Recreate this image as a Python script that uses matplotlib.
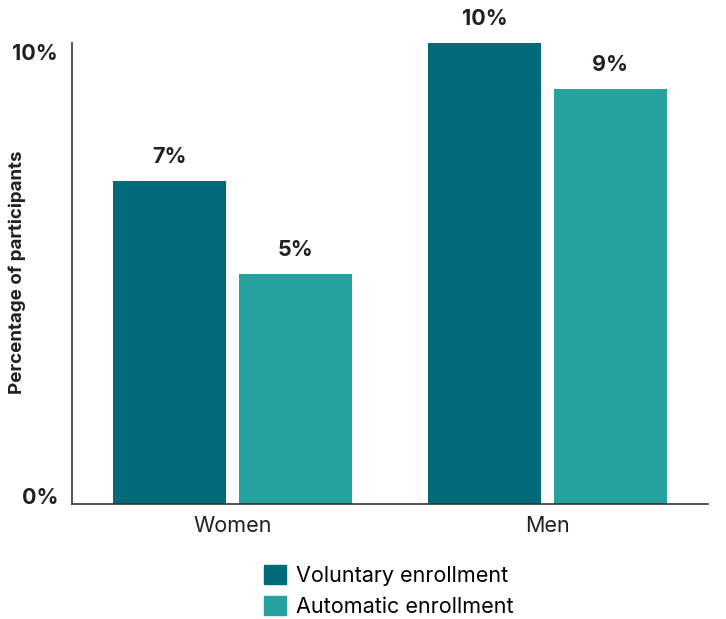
import numpy as np
import matplotlib
matplotlib.use('Agg')
import matplotlib.pyplot as plt
import matplotlib.transforms as mtransforms
from matplotlib.patches import Patch

plt.rcParams['font.family'] = ['Inter', 'DejaVu Sans']

# Data
groups = ['Women', 'Men']
series = ['Voluntary enrollment', 'Automatic enrollment']
voluntary = [7, 10]
automatic = [5, 9]
colors = ['#006B78', '#26A39E']

fig = plt.figure(figsize=(7.26, 6.19), dpi=100)
ax = fig.add_axes([72 / 726, 1 - 504 / 619, (708 - 72) / 726, (504 - 43) / 619])

x = np.arange(len(groups))
width = 0.359
offset = 0.2

for vals, off, col in [(voluntary, -offset, colors[0]), (automatic, offset, colors[1])]:
    bars = ax.bar(x + off, vals, width, color=col)
    for b, v in zip(bars, vals):
        ax.annotate(f'{v}%', (b.get_x() + b.get_width() / 2, v),
                    xytext=(0, 10), textcoords='offset points',
                    ha='center', va='bottom', fontsize=15.5, fontweight='bold',
                    color='#231f20', annotation_clip=False)

ax.set_xlim(-0.51, 1.51)
ax.set_ylim(0, 10)
ax.set_yticks([0, 10])
ylabels = ax.set_yticklabels(['0%', '10%'], fontsize=15.5, fontweight='bold', color='#231f20')
ax.set_xticks(x)
ax.set_xticklabels(groups, fontsize=15.5, color='#231f20')
ax.tick_params(axis='y', length=0, pad=10)
ax.tick_params(axis='x', length=0, pad=9)
for s in ['top', 'right']:
    ax.spines[s].set_visible(False)
for s in ['left', 'bottom']:
    ax.spines[s].set_color('#333333')
    ax.spines[s].set_linewidth(1.2)

# tick labels sit inside the axis range: 0% on the baseline, 10% hanging below the top
for lab in ylabels:
    lab.set_va('baseline')
shift = mtransforms.ScaledTranslation(0, -17 / 100, fig.dpi_scale_trans)
ylabels[1].set_transform(ylabels[1].get_transform() + shift)

fig.text(17 / 726, 1 - 272 / 619, 'Percentage of participants', rotation=90,
         ha='center', va='center', fontsize=13.5, fontweight='bold', color='#231f20')

handles = [Patch(color=c) for c in colors]
fig.legend(handles, series, loc='upper left', bbox_to_anchor=(264 / 726, 1 - 565 / 619),
           frameon=False, fontsize=15.5, handlelength=1.0, handleheight=1.0,
           handletextpad=0.5, labelspacing=0.45, borderpad=0, borderaxespad=0)

fig.savefig('out.png', dpi=100)
